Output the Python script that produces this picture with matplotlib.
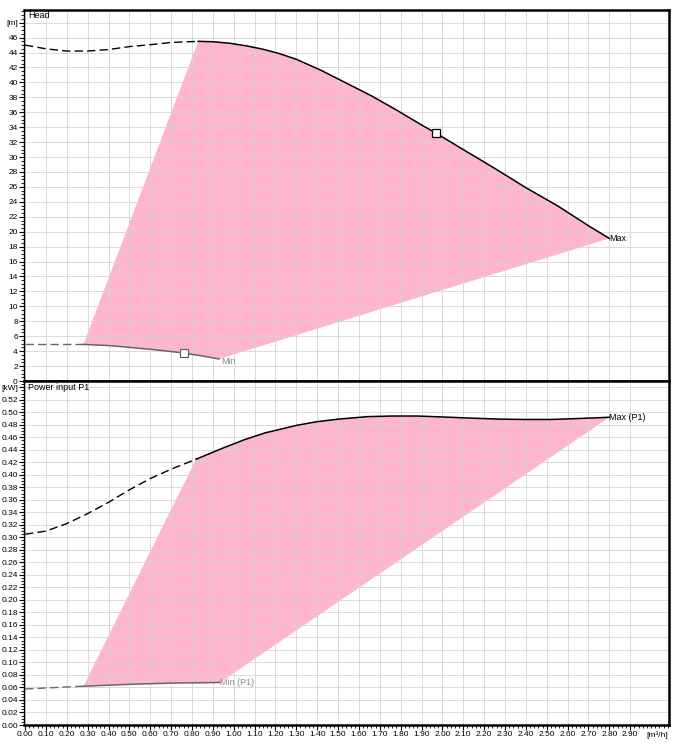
## Pump curves: Head and Power input P1

import numpy as np
import matplotlib
matplotlib.use('Agg')
import matplotlib.pyplot as plt
from matplotlib.ticker import MultipleLocator

plt.rcParams['font.family'] = ['Liberation Sans', 'DejaVu Sans']

## Head curve (max speed), dashed part and solid part
head_dash_q = [0.00, 0.10, 0.20, 0.30, 0.40, 0.50, 0.60, 0.70, 0.83]
head_dash_h = [45.0, 44.5, 44.2, 44.2, 44.4, 44.8, 45.05, 45.35, 45.5]
head_q = [0.83, 0.90, 0.98, 1.06, 1.14, 1.22, 1.30, 1.42, 1.54, 1.66, 1.78,
          1.90, 1.97, 2.10, 2.25, 2.40, 2.55, 2.70, 2.80]
head_h = [45.5, 45.45, 45.25, 44.9, 44.45, 43.85, 43.1, 41.6, 39.9, 38.2, 36.3,
          34.3, 33.2, 31.0, 28.5, 25.9, 23.5, 20.8, 19.1]
## Head curve (min speed)
hmin_dash_q = [0.00, 0.28]
hmin_dash_h = [4.9, 4.9]
hmin_q = [0.28, 0.40, 0.50, 0.60, 0.70, 0.76, 0.85, 0.93]
hmin_h = [4.9, 4.75, 4.5, 4.25, 3.95, 3.75, 3.35, 2.95]
head_duty = (1.97, 33.2)
hmin_duty = (0.76, 3.75)

## Power input P1 (max)
p_dash_q = [0.00, 0.10, 0.20, 0.30, 0.40, 0.50, 0.60, 0.70, 0.82]
p_dash_p = [0.305, 0.310, 0.322, 0.338, 0.356, 0.376, 0.394, 0.409, 0.425]
p_q = [0.82, 0.95, 1.05, 1.15, 1.30, 1.40, 1.50, 1.64, 1.76, 1.88, 2.00,
       2.15, 2.28, 2.40, 2.52, 2.65, 2.80]
p_p = [0.425, 0.443, 0.456, 0.467, 0.479, 0.485, 0.489, 0.493, 0.494, 0.494,
       0.4925, 0.4905, 0.489, 0.4885, 0.4885, 0.490, 0.492]
## Power input P1 (min)
pmin_dash_q = [0.00, 0.28]
pmin_dash_p = [0.0576, 0.062]
pmin_q = [0.28, 0.50, 0.70, 0.934]
pmin_p = [0.062, 0.065, 0.067, 0.068]

x_ticks = np.round(np.arange(0, 2.91, 0.1), 2)
head_ticks = list(range(0, 50, 2))
power_ticks = list(np.round(np.arange(0, 0.541, 0.02), 2))

pink = '#ffa8c4'
grey = '#666666'

fig = plt.figure(figsize=(6.87, 7.44), dpi=100)
ax1 = fig.add_axes([24/687, 1-381/744, 645/687, 371/744])
ax2 = fig.add_axes([24/687, 1-725/744, 645/687, 344/744], sharex=ax1)

for ax in (ax1, ax2):
    ax.set_xlim(-0.005, 3.086)
    ax.xaxis.set_major_locator(MultipleLocator(0.1))
    ax.xaxis.set_minor_locator(MultipleLocator(0.02))
    ax.grid(True, which='major', color='#d4d4d4', lw=0.6, zorder=1)
    ax.tick_params(which='major', direction='out', length=3.5, width=0.8, labelsize=6, pad=1)
    ax.tick_params(which='minor', direction='out', length=2, width=0.6)
    for s in ['top', 'right', 'bottom']:
        ax.spines[s].set_linewidth(1.8)
    ax.spines['left'].set_linewidth(1.0)

## ---- Head panel
ax1.set_ylim(0, 49.7)
ax1.set_yticks(head_ticks)
ax1.set_yticklabels([str(t) for t in head_ticks[:-1]] + ['[m]'])
ax1.yaxis.set_minor_locator(MultipleLocator(0.5))
ax1.tick_params(axis='x', which='both', bottom=False, labelbottom=False)

poly_q = head_q + hmin_q[::-1]
poly_h = head_h + hmin_h[::-1]
ax1.fill(poly_q, poly_h, color=pink, alpha=0.85, lw=0, zorder=0.5)
ax1.plot(head_dash_q, head_dash_h, color='black', lw=1.0, dashes=(6, 3), zorder=3)
ax1.plot(head_q, head_h, color='black', lw=1.1, zorder=3)
ax1.plot(hmin_dash_q, hmin_dash_h, color=grey, lw=1.0, dashes=(6, 3), zorder=3)
ax1.plot(hmin_q, hmin_h, color=grey, lw=1.1, zorder=3)
ax1.plot(*head_duty, marker='s', ms=6, mfc='white', mec='black', mew=0.9, zorder=4)
ax1.plot(*hmin_duty, marker='s', ms=6, mfc='white', mec=grey, mew=0.9, zorder=4)
ax1.text(head_q[-1], head_h[-1], 'Max', fontsize=6.5, va='center', ha='left', zorder=5)
ax1.text(hmin_q[-1] + 0.01, hmin_h[-1] - 0.3, 'Min', fontsize=6.5, va='center', ha='left',
         color='#8a8a8a', zorder=5)
ax1.text(0.015, 48.9, 'Head', fontsize=6.5, va='center', ha='left', zorder=5)

## ---- Power panel
ax2.set_ylim(0, 0.55)
ax2.set_yticks(power_ticks)
ax2.set_yticklabels(['%.2f' % t for t in power_ticks[:-1]] + ['[kW]'])
ax2.yaxis.set_minor_locator(MultipleLocator(0.005))
ax2.set_xticks(x_ticks)
ax2.set_xticklabels(['%.2f' % t for t in x_ticks])

poly_q = p_q + pmin_q[::-1]
poly_p = p_p + pmin_p[::-1]
ax2.fill(poly_q, poly_p, color=pink, alpha=0.85, lw=0, zorder=0.5)
ax2.plot(p_dash_q, p_dash_p, color='black', lw=1.0, dashes=(6, 3), zorder=3)
ax2.plot(p_q, p_p, color='black', lw=1.1, zorder=3)
ax2.plot(pmin_dash_q, pmin_dash_p, color=grey, lw=1.0, dashes=(6, 3), zorder=3)
ax2.plot(pmin_q, pmin_p, color=grey, lw=1.1, zorder=3)
ax2.text(p_q[-1], p_p[-1], 'Max (P1)', fontsize=6.5, va='center', ha='left', zorder=5)
ax2.text(pmin_q[-1], pmin_p[-1], 'Min (P1)', fontsize=6.5, va='center', ha='left',
         color='#8a8a8a', zorder=5)
ax2.text(0.015, 0.539, 'Power input P1', fontsize=6.5, va='center', ha='left', zorder=5)
ax2.text(3.03, -0.0095, '[m³/h]', fontsize=6, va='top', ha='center', clip_on=False)

fig.savefig('out.png', dpi=100)
